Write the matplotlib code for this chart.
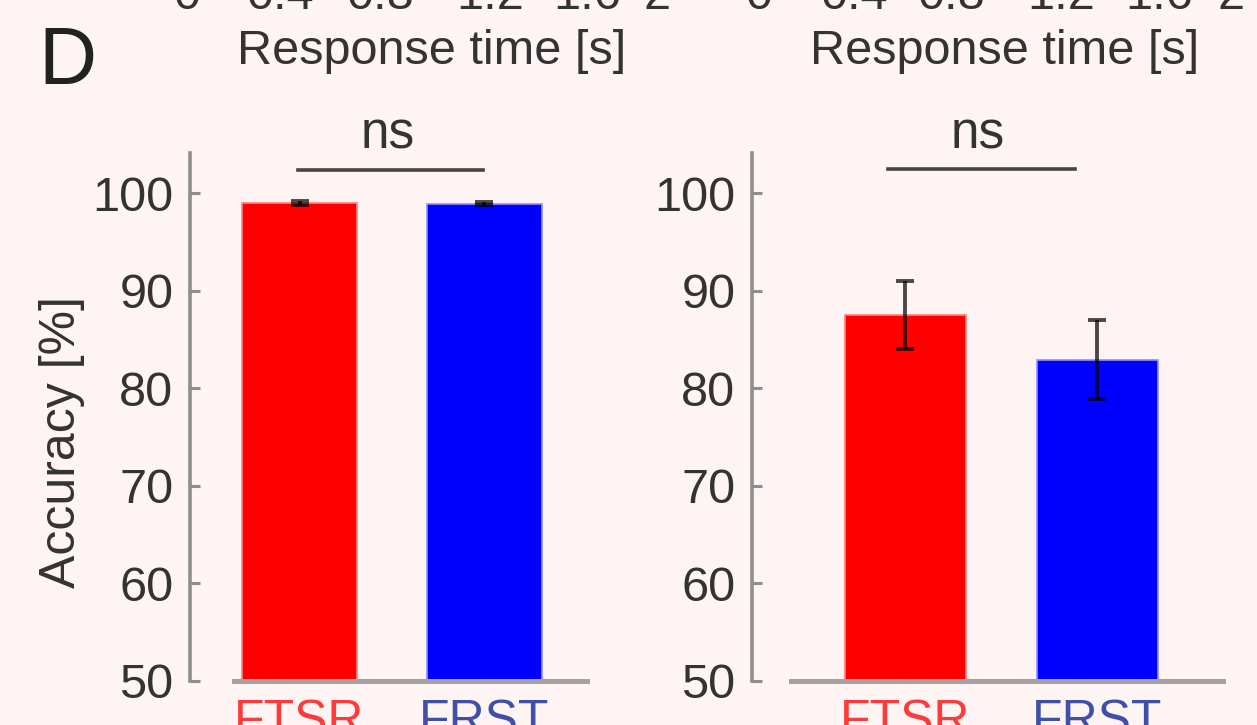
import matplotlib
matplotlib.use("Agg")
import matplotlib.pyplot as plt

plt.rcParams['font.family'] = ['Liberation Sans', 'DejaVu Sans']

# ---- data ----
categories = ["FTSR", "FRST"]
left_acc = [99.0, 98.9]
left_err = [0.2, 0.15]
right_acc = [87.5, 82.9]
right_err = [3.5, 4.05]
yticks = [50, 60, 70, 80, 90, 100]
top_tick_labels = ["0", "0.4", "0.8", "1.2", "1.6", "2"]
sig_label = "ns"

# ---- style / layout ----
W, H = 1257, 725
bg = '#fdf4f3'
txt = '#333333'
bar_colors = ['#ff0000', '#0000ff']
bar_edges = ['#ff8080', '#9090ff']
label_colors = ['#ff3a3a', '#4050a8']

fig = plt.figure(figsize=(W / 100, H / 100), dpi=100)
fig.patch.set_facecolor(bg)


def fx(p):
    return p / W


def fy(p):
    return 1 - p / H


y_bottom_px, y_top_px = 681, 153
ylim = (50, 104.1)

panels = [
    dict(left=190, right=587, xlim=(0.4065, 2.558), xline=0.645, width=0.623,
         vals=left_acc, errs=left_err, sig=(0.99, 1.994, 102.35), sigtxt=1.48),
    dict(left=752, right=1223, xlim=(0.2005, 2.654), xline=0.404, width=0.635,
         vals=right_acc, errs=right_err, sig=(0.909, 1.883, 102.5), sigtxt=1.378),
]

for p in panels:
    ax = fig.add_axes([fx(p['left']), (H - y_bottom_px) / H,
                       (p['right'] - p['left']) / W, (y_bottom_px - y_top_px) / H])
    ax.set_facecolor('none')
    x = [1, 2]
    ax.bar(x, [v - 50 for v in p['vals']], bottom=50, width=p['width'],
           color=bar_colors, edgecolor=bar_edges, linewidth=1.2, zorder=2)
    ax.errorbar(x, p['vals'], yerr=p['errs'], fmt='none', ecolor='black',
                alpha=0.7, elinewidth=2.8, capsize=6.5, capthick=2.8, zorder=3)
    ax.set_xlim(*p['xlim'])
    ax.set_ylim(*ylim)
    for s in ['top', 'right']:
        ax.spines[s].set_visible(False)
    ax.spines['left'].set_color('#8e8e8e')
    ax.spines['left'].set_linewidth(2.6)
    ax.spines['bottom'].set_color('#a2a2a2')
    ax.spines['bottom'].set_linewidth(3.6)
    ax.spines['bottom'].set_bounds(p['xline'], p['xlim'][1])
    ax.set_yticks(yticks)
    ax.set_yticklabels([str(t) for t in yticks])
    ax.tick_params(axis='y', direction='in', length=7, width=2.2, color='#8e8e8e',
                   labelcolor=txt, labelsize=35, pad=12)
    ax.set_xticks(x)
    ax.set_xticklabels(categories)
    ax.tick_params(axis='x', length=0, labelsize=36, pad=13)
    for lab, c in zip(ax.get_xticklabels(), label_colors):
        lab.set_color(c)
    x0, x1, ys = p['sig']
    ax.plot([x0, x1], [ys, ys], color='#444444', lw=2.6, clip_on=False, zorder=4)
    ax.text(p['sigtxt'], 105.9, sig_label, ha='center', va='center', fontsize=37,
            color=txt, clip_on=False)

# y label
fig.text(fx(62), fy(442), 'Accuracy [%]', rotation=90, ha='center', va='center',
         fontsize=36, color=txt)
# panel letter
fig.text(fx(67), fy(63), 'D', ha='center', va='center', fontsize=58, color='#222222')
# x labels of panels above (cut off)
fig.text(fx(432), fy(64), 'Response time [s]', ha='center', va='baseline',
         fontsize=35, color=txt)
fig.text(fx(1005), fy(64), 'Response time [s]', ha='center', va='baseline',
         fontsize=35, color=txt)
top_pos_left = [187, 280, 380, 490, 587, 657]
top_pos_right = [759, 854, 951, 1061, 1159, 1231]
for lab, a, b in zip(top_tick_labels, top_pos_left, top_pos_right):
    for xp in (a, b):
        fig.text(fx(xp), fy(9), lab, ha='center', va='baseline', fontsize=35, color=txt)

fig.savefig('out.png', dpi=100, facecolor=bg)
